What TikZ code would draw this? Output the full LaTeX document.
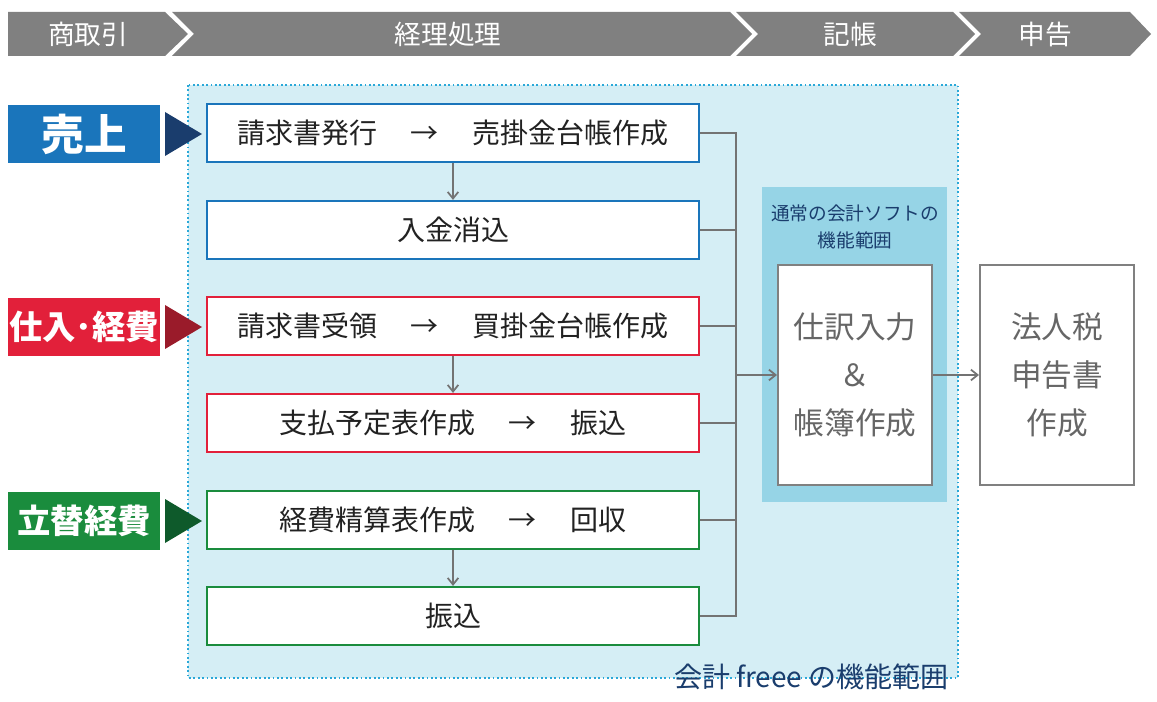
\documentclass[tikz,border=0pt]{standalone}
\usepackage{fontspec}
\setmainfont{Noto Sans CJK JP}
\usetikzlibrary{arrows.meta}
\definecolor{chev}{HTML}{808080}
\definecolor{area}{HTML}{D5EEF5}
\definecolor{areab}{HTML}{2AA8D8}
\definecolor{cblue}{HTML}{1A75BB}
\definecolor{cred}{HTML}{E2203A}
\definecolor{cgreen}{HTML}{1A8C3D}
\definecolor{tblue}{HTML}{1A3D6D}
\definecolor{tred}{HTML}{9A1B2A}
\definecolor{tgreen}{HTML}{0E5A2B}
\definecolor{panel}{HTML}{96D4E6}
\definecolor{txt}{HTML}{222222}
\definecolor{gtxt}{HTML}{666666}
\newcommand{\ga}{\hspace{1.2em}→\hspace{1.2em}}
\tikzset{
 proc/.style={draw=#1,line width=1.6pt,fill=white,minimum width=492*0.75pt,minimum height=58*0.75pt,font=\fontsize{21}{23}\selectfont,text=txt},
 lab/.style={fill=#1,minimum width=152*0.75pt,minimum height=58*0.75pt,text=white,font=\bfseries\fontsize{25}{27}\selectfont,inner sep=0pt},
 hd/.style={text=white,font=\fontsize{20}{22}\selectfont},
 conn/.style={draw=gray!90!black,line width=1.3pt},
 arr/.style={conn,-{Straight Barb[length=5pt,width=8pt]}},
 big/.style={draw=gray,line width=1.5pt,fill=white,align=center,text=gtxt,font=\fontsize{23}{36}\selectfont,minimum width=154*0.75pt,minimum height=220*0.75pt}
}
\begin{document}
\begin{tikzpicture}[x=0.75pt,y=-0.75pt]
\useasboundingbox (0,0) rectangle (1157,702);
% chevrons
\fill[chev] (8,12) -- (165,12) -- (188,34) -- (165,56) -- (8,56) -- cycle;
\fill[chev] (172,12) -- (730,12) -- (752,34) -- (730,56) -- (172,56) -- (194,34) -- cycle;
\fill[chev] (736,12) -- (953,12) -- (975,34) -- (953,56) -- (736,56) -- (758,34) -- cycle;
\fill[chev] (959,12) -- (1130,12) -- (1151,34) -- (1130,56) -- (959,56) -- (981,34) -- cycle;
\node[hd] (h1) at (88,34) {商取引};
\node[hd] (h2) at (448,34) {経理処理};
\node[hd] (h3) at (850,34) {記帳};
\node[hd] (h4) at (1045,34) {申告};
% area
\draw[areab,fill=area,line width=1.3pt,dotted] (188,85) rectangle (958,678);
\node[text=tblue,font=\fontsize{21}{23}\selectfont,anchor=east,inner sep=0pt] (fl) at (949,677) {会計 freee の機能範囲};
% labels
\node[lab=cblue,font=\bfseries\fontsize{32}{34}\selectfont] (l1) at (84,134) {売上};
\node[lab=cred] (l2) at (84,327) {仕入･経費};
\node[lab=cgreen] (l3) at (84,521) {立替経費};
\fill[tblue] (165,112) -- (202,134) -- (165,156) -- cycle;
\fill[tred] (165,305) -- (202,327) -- (165,349) -- cycle;
\fill[tgreen] (165,499) -- (202,521) -- (165,543) -- cycle;
% process boxes
\node[proc=cblue] (b1) at (453,133) {請求書発行\ga 売掛金台帳作成};
\node[proc=cblue] (b2) at (453,230) {入金消込};
\node[proc=cred] (b3) at (453,326) {請求書受領\ga 買掛金台帳作成};
\node[proc=cred] (b4) at (453,423) {支払予定表作成\ga 振込};
\node[proc=cgreen] (b5) at (453,520) {経費精算表作成\ga 回収};
\node[proc=cgreen] (b6) at (453,616) {振込};
\draw[arr] (b1) -- (b2);
\draw[arr] (b3) -- (b4);
\draw[arr] (b5) -- (b6);
% panel
\fill[panel] (762,187) rectangle (947,502);
\node[text=tblue,align=center,font=\fontsize{14}{20}\selectfont] (pt) at (855,227) {通常の会計ソフトの\\機能範囲};
\node[big] (s) at (855,375) {仕訳入力\\＆\\帳簿作成};
\node[big] (t) at (1057,375) {法人税\\申告書\\作成};
% connectors
\coordinate (j) at (736,375);
\foreach \b in {b1,b2,b3,b4,b5,b6} \draw[conn] (\b.east) -| (j);
\draw[arr] (j) -- (s.west);
\draw[arr] (s.east) -- (t.west);
\end{tikzpicture}
\end{document}
